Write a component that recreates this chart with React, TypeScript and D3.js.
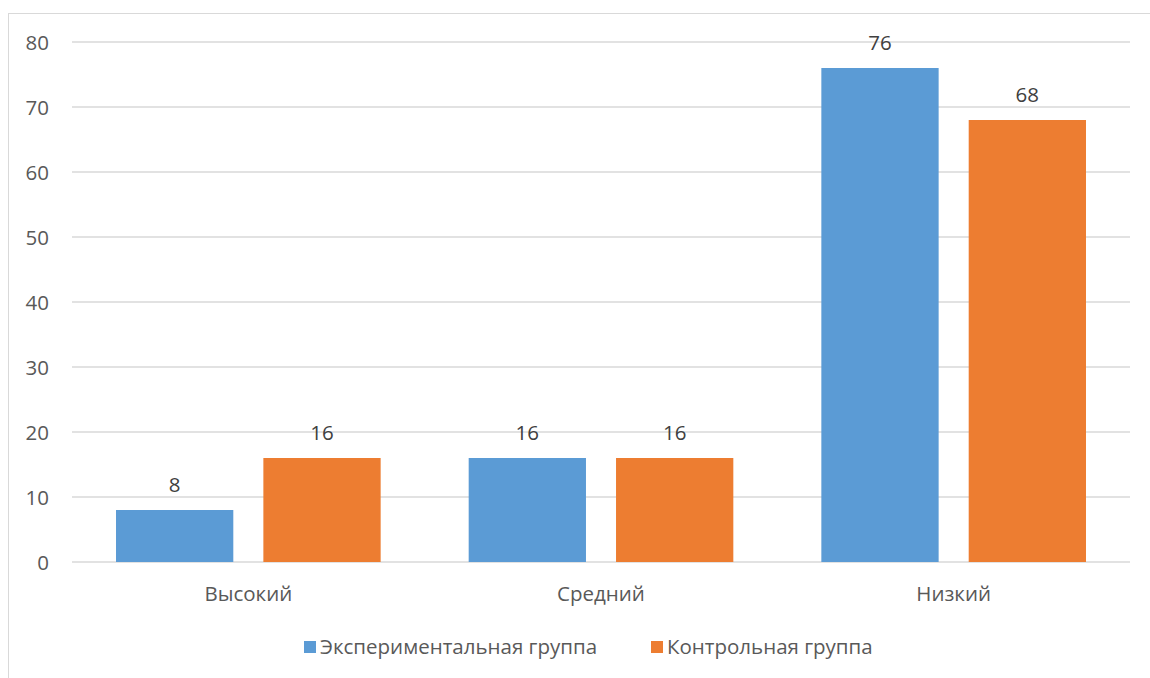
import React from "react";
import * as d3 from "d3";

const categories = ["Высокий", "Средний", "Низкий"];
const seriesNames = ["Экспериментальная группа", "Контрольная группа"];
const experimental = [8, 16, 76];
const control = [16, 16, 68];
const yTicks = [0, 10, 20, 30, 40, 50, 60, 70, 80];
const colors = ["#5B9BD5", "#ED7D31"];

const W = 1150;
const H = 678;
const FONT = "'Open Sans', 'DejaVu Sans', sans-serif";
const FS = 20.5;

export default function App() {
  const x0 = d3.scaleBand<string>().domain(categories).range([72, 1130]).paddingInner(0).paddingOuter(0);
  const inner = 0.1248;
  const x1 = d3
    .scaleBand<number>()
    .domain([0, 1])
    .range([x0.bandwidth() * inner, x0.bandwidth() * (1 - inner)])
    .paddingInner(0.204)
    .paddingOuter(0);
  const y = d3.scaleLinear().domain([0, 80]).range([562, 42]);
  const series = [experimental, control];

  return (
    <svg width={W} height={H} style={{ display: "block", position: "absolute", left: 0, top: 0 }} fontFamily={FONT}>
      <rect x={0} y={0} width={W} height={H} fill="#fff" />
      <rect x={8.5} y={13.5} width={W + 10} height={H + 10} fill="none" stroke="#D9D9D9" strokeWidth={1} />
      {yTicks.map((t) => (
        <g key={t}>
          <line x1={72} x2={1130} y1={y(t)} y2={y(t)} stroke="#D9D9D9" strokeWidth={1.3} />
          <text x={49} y={y(t) + 7.5} textAnchor="end" fontSize={FS} fill="#595959">
            {t}
          </text>
        </g>
      ))}
      {categories.map((c, ci) => (
        <g key={c} transform={`translate(${x0(c)},0)`}>
          {series.map((s, si) => {
            const bx = x1(si)!;
            const bw = x1.bandwidth();
            return (
              <g key={si}>
                <rect x={bx} y={y(s[ci])} width={bw} height={y(0) - y(s[ci])} fill={colors[si]} />
                <text x={bx + bw / 2} y={y(s[ci]) - 18} textAnchor="middle" fontSize={FS} fill="#404040">
                  {s[ci]}
                </text>
              </g>
            );
          })}
          <text x={x0.bandwidth() / 2} y={601} textAnchor="middle" fontSize={FS} fill="#595959">
            {c}
          </text>
        </g>
      ))}
      {seriesNames.map((n, i) => {
        const lx = [304, 651][i];
        return (
          <g key={n}>
            <rect x={lx} y={641} width={12} height={12} fill={colors[i]} />
            <text x={lx + 16} y={654} fontSize={FS} fill="#595959">
              {n}
            </text>
          </g>
        );
      })}
    </svg>
  );
}
